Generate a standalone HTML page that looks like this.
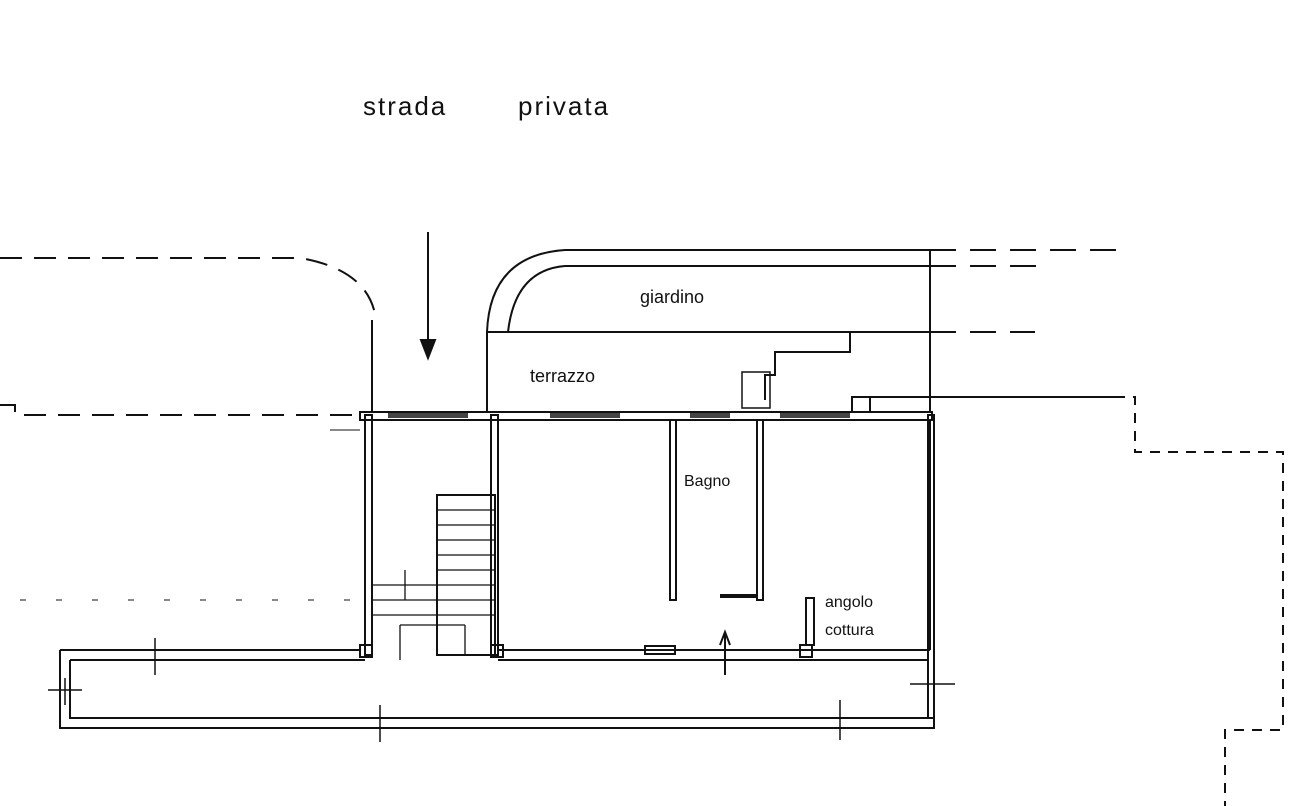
<!DOCTYPE html>
<html><head><meta charset="utf-8"><style>
html,body{margin:0;padding:0;background:#fff;}
svg{display:block}
text{font-family:"Liberation Sans",sans-serif;fill:#111}
</style></head><body>
<svg width="1312" height="806" viewBox="0 0 1312 806" xmlns="http://www.w3.org/2000/svg">
<rect width="1312" height="806" fill="#fff"/>
<g stroke="#111" fill="none" stroke-width="2">
<text x="363" y="115" font-size="26" letter-spacing="2" stroke="none">strada</text>
<text x="518" y="115" font-size="26" letter-spacing="2" stroke="none">privata</text>
<!-- left dashed road -->
<path d="M0 258 H300 Q370 270 376 320" stroke-dasharray="22,12"/>
<line x1="372" y1="320" x2="372" y2="650"/>
<path d="M0 405 H15 V415 H360" stroke-dasharray="22,12"/>
<line x1="20" y1="600" x2="360" y2="600" stroke-dasharray="6,30" stroke-width="1"/>
<!-- arrow -->
<line x1="428" y1="232" x2="428" y2="345"/>
<path d="M421 340 L428 358 L435 340 Z" fill="#111"/>
<!-- giardino -->
<path d="M487 332 Q490 255 565 250 H930"/>
<path d="M508 332 Q515 270 565 266 H930"/>
<path d="M930 250 H1130" stroke-dasharray="26,14"/>
<path d="M930 266 H1040" stroke-dasharray="26,14"/>
<line x1="930" y1="250" x2="930" y2="650"/>
<text x="640" y="303" font-size="18" stroke="none">giardino</text>
<!-- terrazzo -->
<path d="M487 332 H930"/>
<path d="M930 332 H1035" stroke-dasharray="26,14"/>
<path d="M487 332 V412"/>
<path d="M850 332 V352 H775 V375 H765 V400"/>
<path d="M742 372 H770 V408 H742 Z" stroke-width="1.5"/>
<text x="530" y="382" font-size="18" stroke="none">terrazzo</text>
<path d="M852 397 H870 V418 H852 Z"/>
<path d="M870 397 H1115"/>
<path d="M1115 397 H1135 V452 H1283 V730 H1225 V806" stroke-dasharray="10,8"/>
<!-- main wall -->
<rect x="360" y="412" width="572" height="8" fill="#fff"/>
<rect x="388" y="413" width="80" height="5" fill="#444" stroke="none"/>
<rect x="550" y="413" width="70" height="5" fill="#444" stroke="none"/>
<rect x="690" y="413" width="40" height="5" fill="#444" stroke="none"/>
<rect x="780" y="413" width="70" height="5" fill="#444" stroke="none"/>
<line x1="330" y1="430" x2="360" y2="430" stroke-width="1"/>
<!-- verticals -->
<rect x="365" y="415" width="7" height="240"/>
<rect x="491" y="415" width="7" height="240"/>
<rect x="928" y="415" width="6" height="303"/>
<rect x="670" y="420" width="6" height="180"/>
<rect x="757" y="420" width="6" height="180"/>
<line x1="720" y1="596" x2="757" y2="596" stroke-width="4"/>
<text x="684" y="486" font-size="16" stroke="none">Bagno</text>
<!-- stairs -->
<rect x="437" y="495" width="58" height="160"/>
<g stroke-width="1.3">
<line x1="437" y1="510" x2="495" y2="510"/><line x1="437" y1="525" x2="495" y2="525"/>
<line x1="437" y1="540" x2="495" y2="540"/><line x1="437" y1="555" x2="495" y2="555"/>
<line x1="437" y1="570" x2="495" y2="570"/><line x1="437" y1="585" x2="495" y2="585"/>
<line x1="437" y1="600" x2="495" y2="600"/><line x1="437" y1="615" x2="495" y2="615"/>
<line x1="372" y1="585" x2="437" y2="585"/><line x1="372" y1="600" x2="437" y2="600"/>
<line x1="372" y1="615" x2="437" y2="615"/>
<line x1="400" y1="625" x2="465" y2="625"/>
<line x1="400" y1="625" x2="400" y2="660"/><line x1="465" y1="625" x2="465" y2="655"/>
<line x1="405" y1="570" x2="405" y2="600"/>
</g>
<!-- bottom rectangle -->
<path d="M60 650 H360 M498 650 H930"/>
<path d="M70 660 H365 M498 660 H928"/>
<path d="M60 650 V728 H934 V718"/>
<path d="M70 660 V718 H928"/>
<rect x="360" y="645" width="12" height="12"/>
<rect x="491" y="645" width="12" height="12"/>
<rect x="800" y="645" width="12" height="12"/>
<rect x="806" y="598" width="8" height="47"/>
<line x1="725" y1="635" x2="725" y2="675"/>
<path d="M720 645 L725 632 L730 645"/>
<rect x="645" y="646" width="30" height="8"/>
<g stroke-width="1.5">
<line x1="48" y1="690" x2="82" y2="690"/><line x1="65" y1="678" x2="65" y2="705"/>
<line x1="155" y1="638" x2="155" y2="675"/><line x1="380" y1="705" x2="380" y2="742"/>
<line x1="840" y1="700" x2="840" y2="740"/><line x1="910" y1="684" x2="955" y2="684"/>
</g>
<text x="825" y="607" font-size="16" stroke="none">angolo</text>
<text x="825" y="635" font-size="16" stroke="none">cottura</text>
</g>
</svg>
</body></html>
